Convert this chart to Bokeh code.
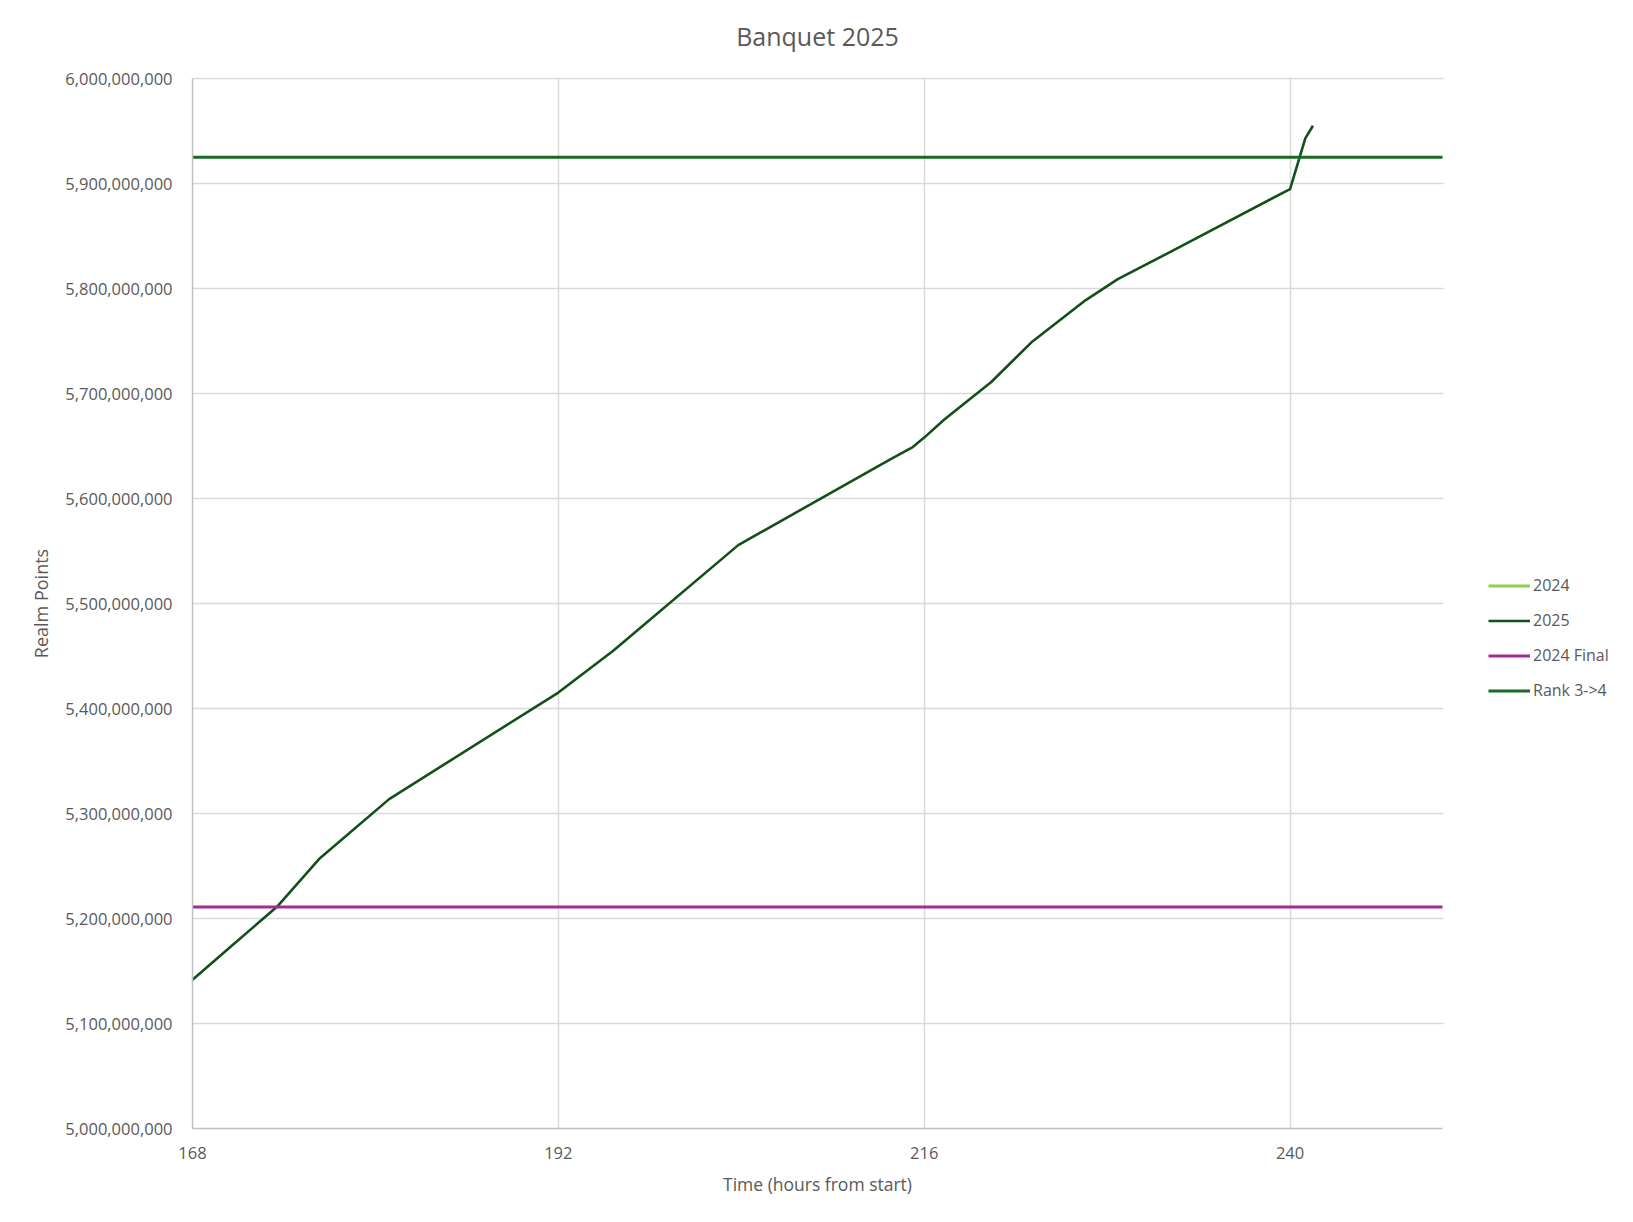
from bokeh.plotting import figure
from bokeh.models import (FixedTicker, NumeralTickFormatter, Legend, LegendItem,
                          BoxAnnotation, Label)
from bokeh.embed import file_html
from bokeh.resources import INLINE

# ---- data ----
series_names = ["2024", "2025", "2024 Final", "Rank 3->4"]
hours_2024 = [float("nan")]      # 2024 series has no points inside this window
points_2024 = [float("nan")]
hours_2025 = [168.0, 170.5, 173.6, 176.3, 180.9, 192.0, 195.6, 203.8, 213.8, 215.25,
              216.0, 217.3, 220.4, 223.1, 226.6, 228.7, 231.9, 240.0, 241.0, 241.5]
points_2025 = [5141600000, 5173000000, 5212000000, 5256600000, 5313700000, 5415200000,
               5455000000, 5555600000, 5637500000, 5649000000, 5658000000, 5675000000,
               5711000000, 5749600000, 5789000000, 5809000000, 5833000000, 5894700000,
               5943000000, 5955000000]
final_2024 = 5211000000
rank_3_to_4 = 5925000000
x_start, x_end = 168, 250
y_start, y_end = 5000000000, 6000000000
x_ticks = [168, 192, 216, 240]
y_ticks = [5000000000 + i * 100000000 for i in range(11)]

colors = {"2024": "#92D050", "2025": "#124F1A", "2024 Final": "#A02B93", "Rank 3->4": "#196B24"}
FONT = "Open Sans"
TXT = "#595959"

# ---- layout (pixels) ----
W, H = 1617, 1206
LEFT = 192                      # left edge of the plot area
PLOT_W, PLOT_H = 1250, 1050     # size of the x_start..x_end / y_start..y_end area
MARGIN_Y = (H - PLOT_H) / 2     # space above and below the plot area
px_x = PLOT_W / (x_end - x_start)
px_y = PLOT_H / (y_end - y_start)
x_lo, x_hi = x_start - LEFT / px_x, x_start + (W - LEFT) / px_x
y_lo, y_hi = y_start - MARGIN_Y / px_y, y_end + MARGIN_Y / px_y

p = figure(width=W, height=H, x_range=(x_lo, x_hi), y_range=(y_lo, y_hi),
           output_backend="svg", toolbar_location=None,
           min_border_left=0, min_border_right=0, min_border_top=0, min_border_bottom=0)
p.outline_line_color = None
p.background_fill_color = "white"
p.border_fill_color = "white"

p.xaxis.ticker = FixedTicker(ticks=x_ticks)
p.xaxis.bounds = (x_start, x_end)
p.xaxis.fixed_location = y_start
p.yaxis.ticker = FixedTicker(ticks=y_ticks)
p.yaxis.bounds = (y_start, y_end)
p.yaxis.fixed_location = x_start
p.yaxis.formatter = NumeralTickFormatter(format="0,0")
for ax in (p.xaxis, p.yaxis):
    ax.axis_line_color = "#BFBFBF"
    ax.axis_line_width = 1.5
    ax.major_tick_line_color = None
    ax.minor_tick_line_color = None
    ax.major_label_text_font = FONT
    ax.major_label_text_font_size = "16.5px"
    ax.major_label_text_color = TXT
    ax.axis_label_text_font = FONT
    ax.axis_label_text_font_style = "normal"
    ax.axis_label_text_color = TXT
p.yaxis.axis_label = "Realm Points"
p.yaxis.axis_label_text_font_size = "18px"
p.xaxis.major_label_standoff = 12
p.yaxis.major_label_standoff = 14
p.yaxis.axis_label_standoff = 9

p.xgrid.ticker = FixedTicker(ticks=x_ticks[1:])
p.ygrid.ticker = FixedTicker(ticks=y_ticks[1:])
for g in (p.xgrid, p.ygrid):
    g.grid_line_color = "#D9D9D9"
    g.grid_line_width = 1.5

# keep the grid inside the plot area
p.add_layout(BoxAnnotation(left=x_end + 1 / px_x, fill_color="white", fill_alpha=1.0,
                           line_color=None, level="underlay"))
p.add_layout(BoxAnnotation(right=x_start, fill_color="white", fill_alpha=1.0,
                           line_color=None, level="underlay"))
p.add_layout(BoxAnnotation(bottom=y_end + 1 / px_y, fill_color="white", fill_alpha=1.0,
                           line_color=None, level="underlay"))
p.add_layout(BoxAnnotation(top=y_start, fill_color="white", fill_alpha=1.0,
                           line_color=None, level="underlay"))

r2024 = p.line(hours_2024, points_2024, line_color=colors["2024"], line_width=3)
r2025 = p.line(hours_2025, points_2025, line_color=colors["2025"], line_width=2.6)
rfin = p.line([x_start, x_end], [final_2024, final_2024], line_color=colors["2024 Final"], line_width=3)
rrank = p.line([x_start, x_end], [rank_3_to_4, rank_3_to_4], line_color=colors["Rank 3->4"], line_width=3)

x_mid = (x_start + x_end) / 2
p.add_layout(Label(x=x_mid, y=y_end + 43 / px_y, text="Banquet 2025",
                   text_align="center", text_baseline="middle",
                   text_font=FONT, text_font_size="25px", text_color=TXT))
p.add_layout(Label(x=x_mid, y=y_start - 55 / px_y, text="Time (hours from start)",
                   text_align="center", text_baseline="middle",
                   text_font=FONT, text_font_size="17.5px", text_color=TXT))

legend = Legend(items=[LegendItem(label=n, renderers=[r]) for n, r in
                       zip(series_names, [r2024, r2025, rfin, rrank])],
                location=(LEFT + 1296, 505), orientation="vertical")
legend.glyph_width = 42
legend.glyph_height = 21
legend.label_height = 21
legend.label_standoff = 3
legend.spacing = 13
legend.padding = 0
legend.margin = 0
legend.border_line_color = None
legend.background_fill_alpha = 0
legend.label_text_font = FONT
legend.label_text_font_size = "16px"
legend.label_text_color = TXT
p.add_layout(legend, "center")

open("out.html", "w").write(file_html(p, INLINE))
